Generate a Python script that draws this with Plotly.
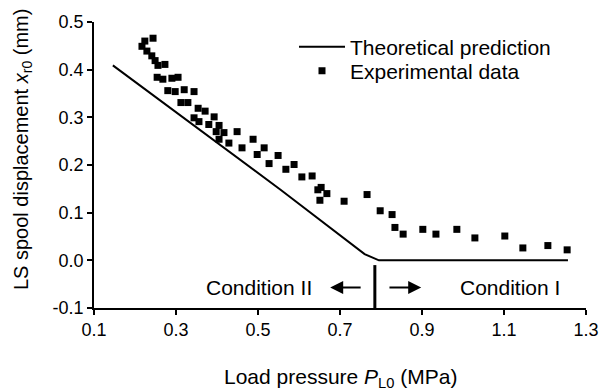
import plotly.graph_objects as go

# Theoretical prediction (line)
theory_p = [0.146, 0.44, 0.555, 0.76, 0.795, 1.256]
theory_x = [0.409, 0.22, 0.148, 0.013, 0.0, 0.0]

# Experimental data (squares)
exp_p = [0.244, 0.224, 0.217, 0.229, 0.241, 0.249, 0.256, 0.273, 0.254, 0.268,
         0.290, 0.305, 0.280, 0.298, 0.320, 0.344, 0.312, 0.329, 0.354, 0.371,
         0.344, 0.356, 0.393, 0.380, 0.405, 0.398, 0.417, 0.449, 0.405, 0.429,
         0.488, 0.461, 0.515, 0.498, 0.549, 0.527, 0.588, 0.568, 0.632, 0.607,
         0.654, 0.646, 0.668, 0.651, 0.710, 0.766, 0.798, 0.827, 0.834, 0.854,
         0.902, 0.934, 0.985, 1.029, 1.102, 1.146, 1.207, 1.254]
exp_x = [0.466, 0.460, 0.449, 0.439, 0.429, 0.419, 0.409, 0.411, 0.384, 0.380,
         0.382, 0.384, 0.356, 0.354, 0.358, 0.354, 0.331, 0.331, 0.319, 0.313,
         0.299, 0.291, 0.301, 0.285, 0.283, 0.270, 0.268, 0.270, 0.254, 0.246,
         0.254, 0.236, 0.236, 0.222, 0.220, 0.203, 0.201, 0.191, 0.177, 0.175,
         0.153, 0.148, 0.140, 0.126, 0.124, 0.138, 0.104, 0.096, 0.069, 0.055,
         0.065, 0.055, 0.065, 0.047, 0.051, 0.026, 0.031, 0.022]

# Boundary between conditions
boundary_p = [0.785, 0.785]
boundary_x = [-0.01, -0.1]

x_ticks = [0.1, 0.3, 0.5, 0.7, 0.9, 1.1, 1.3]
x_ticktext = ["0.1", "0.3", "0.5", "0.7", "0.9", "1.1", "1.3"]
y_ticks = [-0.1, 0.0, 0.1, 0.2, 0.3, 0.4, 0.5]
y_ticktext = ["-0.1", "0.0", "0.1", "0.2", "0.3", "0.4", "0.5"]

FONT = "Liberation Sans, Arial, sans-serif"

fig = go.Figure()
fig.add_trace(go.Scatter(x=theory_p, y=theory_x, mode="lines",
                         line=dict(color="black", width=2),
                         name="Theoretical prediction", legend="legend"))
fig.add_trace(go.Scatter(x=exp_p, y=exp_x, mode="markers",
                         marker=dict(symbol="square", size=7, color="black"),
                         name="Experimental data", legend="legend2"))
fig.add_trace(go.Scatter(x=boundary_p, y=boundary_x, mode="lines",
                         line=dict(color="black", width=3),
                         showlegend=False, hoverinfo="skip"))

leg_common = dict(xanchor="left", yanchor="middle", bgcolor="rgba(0,0,0,0)",
                  font=dict(size=21, family=FONT), itemwidth=46)

fig.update_layout(
    width=614, height=392,
    margin=dict(l=94, r=28, t=13, b=84),
    plot_bgcolor="white", paper_bgcolor="white",
    font=dict(family=FONT, size=18, color="black"),
    legend=dict(x=0.4065, y=0.912, **leg_common),
    legend2=dict(x=0.4065, y=0.828, **leg_common),
    xaxis=dict(range=[0.1, 1.3], tickvals=x_ticks, ticktext=x_ticktext,
               showgrid=False, zeroline=False, showline=True,
               linecolor="black", linewidth=1.5, ticks="outside",
               ticklen=5, tickcolor="black", tickwidth=1.5,
               tickfont=dict(size=18)),
    yaxis=dict(range=[-0.1, 0.5], tickvals=y_ticks, ticktext=y_ticktext,
               showgrid=False, zeroline=False, showline=True,
               linecolor="black", linewidth=1.5, ticks="outside",
               ticklen=5, tickcolor="black", tickwidth=1.5,
               tickfont=dict(size=18)),
    showlegend=True,
)

annotations = [
    dict(text="LS spool displacement <i>x</i><sub>r0</sub> (mm)",
         xref="paper", x=0, xshift=-72, yref="y", y=0.225, yshift=3,
         textangle=-90, showarrow=False, font=dict(size=20),
         xanchor="center", yanchor="middle"),
    dict(text="Load pressure <i>P</i><sub>L0</sub> (MPa)",
         xref="x", x=0.7, yref="paper", y=0, yshift=-70,
         showarrow=False, font=dict(size=21),
         xanchor="center", yanchor="middle"),
    dict(text="Condition II", xref="x", x=0.502, yref="y", y=-0.057,
         showarrow=False, font=dict(size=21), xanchor="center", yanchor="middle"),
    dict(text="Condition I", xref="x", x=1.115, yref="y", y=-0.057,
         showarrow=False, font=dict(size=21), xanchor="center", yanchor="middle"),
    dict(text="", xref="x", yref="y", x=0.676, y=-0.057,
         ax=0.754, ay=-0.057, axref="x", ayref="y",
         showarrow=True, arrowhead=2, arrowsize=1.3, arrowwidth=2, arrowcolor="black"),
    dict(text="", xref="x", yref="y", x=0.898, y=-0.057,
         ax=0.817, ay=-0.057, axref="x", ayref="y",
         showarrow=True, arrowhead=2, arrowsize=1.3, arrowwidth=2, arrowcolor="black"),
]
fig.update_layout(annotations=annotations)

fig.write_html("out.html")
